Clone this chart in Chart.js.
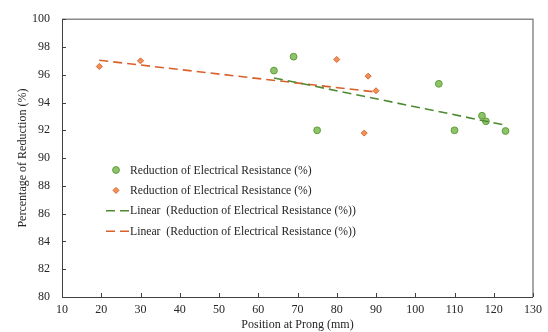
<!DOCTYPE html>
<html>
<head>
<meta charset="utf-8">
<script src="https://cdn.jsdelivr.net/npm/chart.js@4.4.1/dist/chart.umd.min.js"></script>
<style>
  html, body { margin: 0; padding: 0; background: #fff; }
  #wrap { width: 548px; height: 332px; }
</style>
</head>
<body>
<div id="wrap"><canvas id="chart" width="548" height="332"></canvas></div>
<script>
// Position at prong (mm) and reduction of resistance (%) for both sample sets
const greenX = [64, 69, 75, 106, 110, 117, 118, 123];
const greenY = [96.3, 97.3, 92.0, 95.35, 92.0, 93.05, 92.65, 91.95];
const orangeX = [19.5, 30, 80, 87, 88, 90];
const orangeY = [96.6, 97.0, 97.1, 91.8, 95.9, 94.85];

const seriesLabel = "Reduction of Electrical Resistance (%)";
const trendLabel = "Linear  (Reduction of Electrical Resistance (%))";

const xTicks = [10, 20, 30, 40, 50, 60, 70, 80, 90, 100, 110, 120, 130];
const yTicks = [80, 82, 84, 86, 88, 90, 92, 94, 96, 98, 100];

const serif = "'Liberation Serif', 'Times New Roman', serif";

const toPoints = (xs, ys) => xs.map((x, i) => ({ x: x, y: ys[i] }));

// least squares trendline over the data range
function linearFit(xs, ys) {
  const n = xs.length;
  const mx = xs.reduce((a, b) => a + b, 0) / n;
  const my = ys.reduce((a, b) => a + b, 0) / n;
  let sxy = 0, sxx = 0;
  xs.forEach((x, i) => { sxy += (x - mx) * (ys[i] - my); sxx += (x - mx) * (x - mx); });
  const k = sxy / sxx;
  const lo = Math.min(...xs), hi = Math.max(...xs);
  return [{ x: lo, y: my + k * (lo - mx) }, { x: hi, y: my + k * (hi - mx) }];
}

// frame + inward tick marks
const framePlugin = {
  id: "frame",
  afterDatasetsDraw(chart) {
    const { ctx, chartArea: a, scales } = chart;
    ctx.save();
    ctx.strokeStyle = "#8a8a8a";
    ctx.lineWidth = 1.5;
    ctx.beginPath();
    ctx.moveTo(a.left, a.top); ctx.lineTo(a.right, a.top); ctx.lineTo(a.right, a.bottom);
    ctx.stroke();
    ctx.strokeStyle = "#404040";
    ctx.lineWidth = 1;
    ctx.beginPath();
    ctx.moveTo(a.left + 0.5, a.top); ctx.lineTo(a.left + 0.5, a.bottom + 0.5); ctx.lineTo(a.right, a.bottom + 0.5);
    scales.x.ticks.forEach(t => {
      const px = Math.round(scales.x.getPixelForValue(t.value)) + 0.5;
      ctx.moveTo(px, a.bottom); ctx.lineTo(px, a.bottom - 4);
    });
    scales.y.ticks.forEach(t => {
      const py = Math.round(scales.y.getPixelForValue(t.value)) + 0.5;
      ctx.moveTo(a.left, py); ctx.lineTo(a.left + 4, py);
    });
    ctx.stroke();
    ctx.restore();
  }
};

// legend box inside the plot, left side
const legendPlugin = {
  id: "innerLegend",
  afterDraw(chart) {
    const { ctx } = chart;
    const sets = chart.data.datasets;
    const x0 = 106, markX = 116, textX = 130, y0 = 170, step = 20.4;
    ctx.save();
    ctx.font = "11.7px " + serif;
    ctx.textBaseline = "middle";
    sets.forEach((ds, i) => {
      const y = y0 + i * step;
      if (ds.type === "scatter") {
        ctx.fillStyle = ds.backgroundColor;
        ctx.strokeStyle = ds.borderColor;
        ctx.lineWidth = 1;
        ctx.beginPath();
        if (ds.pointStyle === "rectRot") {
          const r = ds.pointRadius;
          ctx.moveTo(markX, y - r); ctx.lineTo(markX + r, y); ctx.lineTo(markX, y + r); ctx.lineTo(markX - r, y);
          ctx.closePath();
        } else {
          ctx.arc(markX, y, ds.pointRadius, 0, Math.PI * 2);
        }
        ctx.fill(); ctx.stroke();
      } else {
        ctx.strokeStyle = ds.borderColor;
        ctx.lineWidth = ds.borderWidth;
        ctx.setLineDash(ds.borderDash);
        ctx.beginPath();
        ctx.moveTo(x0, y); ctx.lineTo(textX - 1, y);
        ctx.stroke();
        ctx.setLineDash([]);
      }
      ctx.fillStyle = "#262626";
      ctx.fillText(ds.label, textX, y + 0.5);
    });
    ctx.restore();
  }
};

new Chart(document.getElementById("chart"), {
  data: {
    datasets: [
      {
        type: "scatter", label: seriesLabel, data: toPoints(greenX, greenY),
        pointStyle: "circle", pointRadius: 3.4, backgroundColor: "#8dc46a", borderColor: "#5f9c3c", borderWidth: 1, order: 1
      },
      {
        type: "scatter", label: seriesLabel, data: toPoints(orangeX, orangeY),
        pointStyle: "rectRot", pointRadius: 3, backgroundColor: "#f39058", borderColor: "#d9652e", borderWidth: 1, order: 1
      },
      {
        type: "line", label: trendLabel, data: linearFit(greenX, greenY),
        borderColor: "#4f8a32", borderWidth: 1.6, borderDash: [9, 5], pointRadius: 0, fill: false, order: 0
      },
      {
        type: "line", label: trendLabel, data: linearFit(orangeX, orangeY),
        borderColor: "#d9602a", borderWidth: 1.6, borderDash: [9, 5], pointRadius: 0, fill: false, order: 0
      }
    ]
  },
  options: {
    responsive: false,
    animation: false,
    layout: { padding: { top: 12, right: 12, left: 0, bottom: 0 } },
    plugins: { legend: { display: false }, tooltip: { enabled: false } },
    scales: {
      x: {
        type: "linear", min: xTicks[0], max: xTicks[xTicks.length - 1],
        afterFit: s => { s.height = 35; },
        afterBuildTicks: s => { s.ticks = xTicks.map(v => ({ value: v })); },
        grid: { display: false, drawTicks: false },
        border: { display: false },
        ticks: { padding: 6, color: "#262626", font: { family: serif, size: 12 }, maxRotation: 0 },
        title: { display: true, text: "Position at Prong (mm)", color: "#262626", padding: 0, font: { family: serif, size: 12 } }
      },
      y: {
        type: "linear", min: yTicks[0], max: yTicks[yTicks.length - 1],
        afterFit: s => { s.width = 62; },
        afterBuildTicks: s => { s.ticks = yTicks.map(v => ({ value: v })); },
        grid: { display: false, drawTicks: false },
        border: { display: false },
        ticks: { padding: 12, color: "#262626", font: { family: serif, size: 12 } },
        title: { display: true, text: "Percentage of Reduction (%)", color: "#262626", padding: { top: 16, bottom: 0 }, font: { family: serif, size: 12 } }
      }
    }
  },
  plugins: [framePlugin, legendPlugin]
});
</script>
</body>
</html>
